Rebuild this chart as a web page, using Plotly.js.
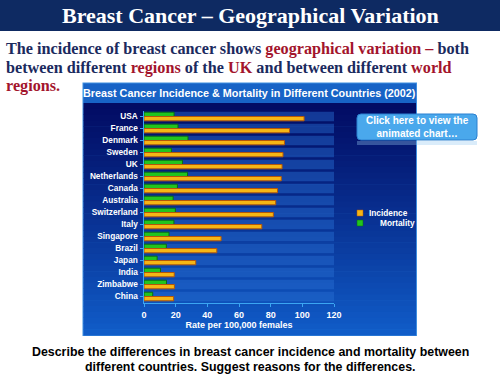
<!DOCTYPE html>
<html><head><meta charset="utf-8">
<script src="https://cdn.plot.ly/plotly-3.0.1.min.js"></script>
<style>html,body{margin:0;padding:0;background:#fff}#c{width:500px;height:375px}</style>
</head><body><div id="c"></div>
<script>
const countries = ["USA","France","Denmark","Sweden","UK","Netherlands","Canada","Australia","Switzerland","Italy","Singapore","Brazil","Japan","India","Zimbabwe","China"];
const incidence = [101.1, 91.9, 88.7, 87.8, 87.2, 86.7, 84.3, 83.2, 81.7, 74.4, 48.7, 46.0, 32.7, 19.1, 19.2, 18.7];
const mortality = [19.0, 21.5, 27.8, 17.3, 24.3, 27.5, 21.1, 18.4, 19.8, 18.9, 15.8, 14.1, 8.3, 10.4, 14.2, 5.5];
const xTicks = [0, 20, 40, 60, 80, 100, 120];

(function () {
const W = 500, H = 375;
const px = v => v / W, py = v => 1 - v / H;

const shapes = [];
shapes.push({type:'rect', xref:'paper', yref:'paper', x0:0, x1:1, y0:py(31), y1:py(0), fillcolor:'#0e2a62', line:{width:0}, layer:'below'});
shapes.push({type:'rect', xref:'paper', yref:'paper', x0:px(82.5), x1:px(417), y0:py(336), y1:py(82.5), fillcolor:'#3f8fe0', line:{width:0}, layer:'below'});
const nStrip = 40, gTop = 103, gBot = 335;
const c0 = [2, 12, 100], c1 = [16, 92, 200];
for (let i = 0; i < nStrip; i++) {
  const t = i / (nStrip - 1);
  const col = c0.map((a, k) => Math.round(a + (c1[k] - a) * Math.pow(t, 1.1)));
  const y0 = gTop + (gBot - gTop) * i / nStrip, y1 = gTop + (gBot - gTop) * (i + 1) / nStrip;
  shapes.push({type:'rect', xref:'paper', yref:'paper', x0:px(83.5), x1:px(416), y0:py(y1 + 0.5), y1:py(y0), fillcolor:`rgb(${col.join(',')})`, line:{width:0}, layer:'below'});
}
shapes.push({type:'rect', xref:'paper', yref:'paper', x0:px(83.5), x1:px(416), y0:py(103), y1:py(83.5), fillcolor:'#1763c6', line:{width:0}, layer:'below'});
countries.forEach((c, i) => {
  shapes.push({type:'rect', xref:'x', yref:'y', x0:0, x1:120, y0:i - 0.4, y1:i + 0.4, fillcolor:'rgba(40,110,210,0.45)', line:{width:0}, layer:'below'});
});
shapes.push({type:'rect', xref:'paper', yref:'paper', x0:px(357), x1:px(477), y0:py(145), y1:py(141), fillcolor:'rgba(150,200,240,0.35)', line:{width:0}, layer:'above'});
shapes.push({type:'path', xref:'paper', yref:'paper', layer:'above',
  path:`M ${px(361)} ${py(114)} L ${px(473)} ${py(114)} Q ${px(477)} ${py(114)} ${px(477)} ${py(118)} L ${px(477)} ${py(136)} Q ${px(477)} ${py(140)} ${px(473)} ${py(140)} L ${px(361)} ${py(140)} Q ${px(357)} ${py(140)} ${px(357)} ${py(136)} L ${px(357)} ${py(118)} Q ${px(357)} ${py(114)} ${px(361)} ${py(114)} Z`,
  fillcolor:'#4aa8ec', line:{color:'#2a80d0', width:1}});

const navy = '#1b2a5e', red = '#a3142c';
const serif = 'Liberation Serif, Times New Roman, serif';
const sans = 'Liberation Sans, Arial, sans-serif';
const subSize = 16.2;
const annotations = [
  {text:'<b>Breast Cancer – Geographical Variation</b>', xref:'paper', yref:'paper', x:0.5, y:py(16), xanchor:'center', yanchor:'middle', showarrow:false, font:{family:serif, size:22, color:'#ffffff'}},
  {text:`<b>The incidence of breast cancer shows <span style="color:${red}">geographical variation –</span> both</b>`, xref:'paper', yref:'paper', x:px(4), y:py(49), xanchor:'left', yanchor:'middle', showarrow:false, font:{family:serif, size:subSize, color:navy}},
  {text:`<b>between different <span style="color:${red}">regions</span> of the <span style="color:${red}">UK</span> and between different <span style="color:${red}">world</span></b>`, xref:'paper', yref:'paper', x:px(4), y:py(68), xanchor:'left', yanchor:'middle', showarrow:false, font:{family:serif, size:subSize, color:navy}},
  {text:`<b><span style="color:${red}">regions.</span></b>`, xref:'paper', yref:'paper', x:px(4), y:py(86), xanchor:'left', yanchor:'middle', showarrow:false, font:{family:serif, size:subSize, color:navy}},
  {text:'<b>Breast Cancer Incidence & Mortality in Different Countries (2002)</b>', xref:'paper', yref:'paper', x:px(249), y:py(93.5), xanchor:'center', yanchor:'middle', showarrow:false, font:{family:sans, size:10.8, color:'#ffffff'}},
  {text:'<b>Click here to view the<br>animated chart…</b>', xref:'paper', yref:'paper', x:px(417), y:py(127), xanchor:'center', yanchor:'middle', showarrow:false, font:{family:sans, size:10, color:'#ffffff'}},
  {text:'<b>Describe the differences in breast cancer incidence and mortality between</b>', xref:'paper', yref:'paper', x:0.5, y:py(352), xanchor:'center', yanchor:'middle', showarrow:false, font:{family:sans, size:12.4, color:'#000000'}},
  {text:'<b>different countries. Suggest reasons for the differences.</b>', xref:'paper', yref:'paper', x:0.5, y:py(367), xanchor:'center', yanchor:'middle', showarrow:false, font:{family:sans, size:12.4, color:'#000000'}}
];

const traces = [
  {type:'bar', orientation:'h', name:'Mortality', y:countries, x:mortality, marker:{color:'#22c41e', line:{color:'#0b6a12', width:1}}, legend:'legend2'},
  {type:'bar', orientation:'h', name:'Incidence', y:countries, x:incidence, marker:{color:'#f6b615', line:{color:'#b4560a', width:1}}, legend:'legend'}
];

const axCol = '#3aa6f2';
const legFont = {family:sans, size:8.3, color:'#ffffff', weight:'bold'};
const layout = {
  width:W, height:H, margin:{l:0, r:0, t:0, b:0},
  paper_bgcolor:'#ffffff', plot_bgcolor:'rgba(0,0,0,0)',
  barmode:'group', bargap:0.28, bargroupgap:0,
  showlegend:true,
  legend:{x:px(340), y:py(213), xanchor:'left', yanchor:'middle', bgcolor:'rgba(0,0,0,0)', font:legFont, itemwidth:30},
  legend2:{x:px(340), y:py(223), xanchor:'left', yanchor:'middle', bgcolor:'rgba(0,0,0,0)', font:legFont, itemwidth:30},
  xaxis:{domain:[px(144), px(334)], range:[0, 120], tickvals:xTicks, showgrid:false, zeroline:false, showline:true, linecolor:axCol, linewidth:1.5, ticks:'outside', tickcolor:axCol, ticklen:3, tickfont:{family:sans, size:9, color:'#ffffff', weight:'bold'}, anchor:'y',
    title:{text:'Rate per 100,000 females', font:{family:sans, size:9, color:'#ffffff', weight:'bold'}, standoff:1}},
  yaxis:{domain:[py(302.5), py(110.5)], range:[15.5, -0.5], autorange:false, showgrid:false, zeroline:false, showline:true, linecolor:axCol, linewidth:1.5, ticks:'outside', tickcolor:axCol, ticklen:3, tickfont:{family:sans, size:8.3, color:'#ffffff', weight:'bold'}, anchor:'x'},
  shapes, annotations
};
Plotly.newPlot('c', traces, layout, {displayModeBar:false, staticPlot:true}).then(gd => {
  gd.querySelectorAll('.legendpoints path').forEach(p => {
    const tr = p.getAttribute('transform') || '';
    p.setAttribute('transform', tr + ' scale(0.5)');
  });
  gd.querySelectorAll('.legendtext').forEach(t => t.setAttribute('x', 29));
});
})();
</script></body></html>
